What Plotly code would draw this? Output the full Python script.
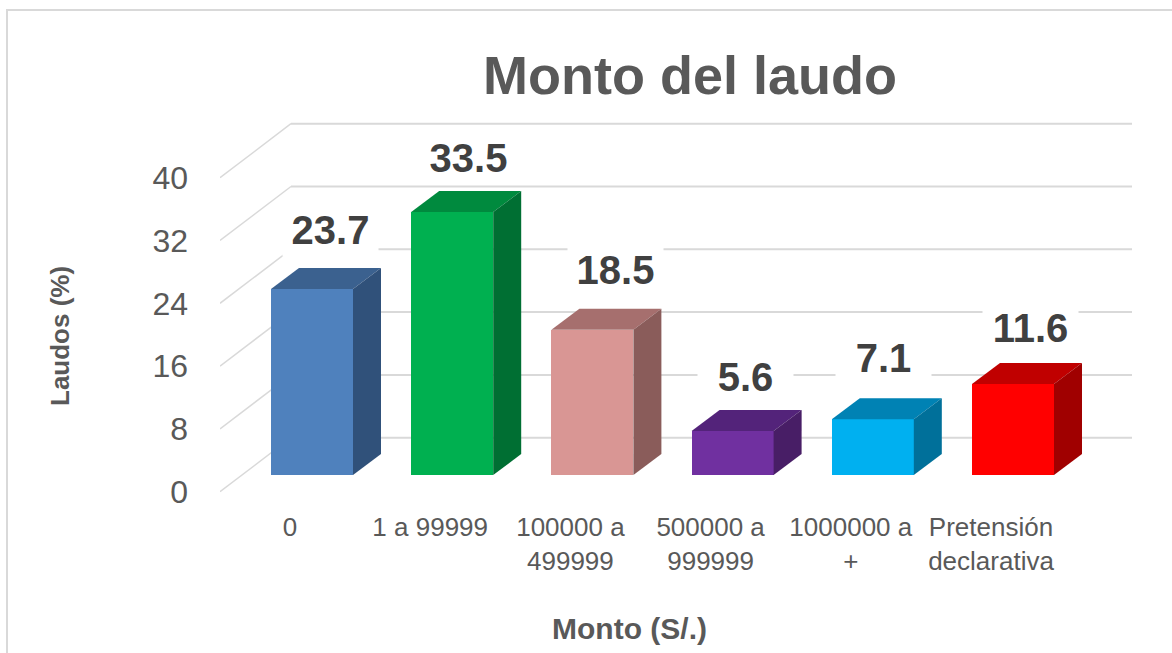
import plotly.graph_objects as go

# ---- data ----
categories = ["0", "1 a 99999", "100000 a<br>499999", "500000 a<br>999999", "1000000 a<br>+", "Pretensión<br>declarativa"]
values = [23.7, 33.5, 18.5, 5.6, 7.1, 11.6]
y_ticks = [0, 8, 16, 24, 32, 40]

front_colors = ["#4F81BD", "#00B050", "#D99694", "#7030A0", "#00B0F0", "#FF0000"]
top_colors = ["#3B618F", "#008A3E", "#A66F6E", "#53237A", "#0082B4", "#C00000"]
side_colors = ["#30517A", "#006F33", "#8A5C5A", "#481E66", "#00709A", "#A00000"]

# label nudges (pixels) relative to the bar's front-face centre / top
label_dx = [18, 16, 23, 13, 11, 17]
label_dy = [59, 54, 60, 54, 61, 56]

# ---- layout constants ----
W, H = 1172, 653
FONT = "Liberation Sans"
PL, PR, PT, PB = 220, 1132, 100, 500      # plot area in page pixels
PX_PER_CAT = 140.2
PX_PER_UNIT = 7.85
ZERO_X, ZERO_Y = 290, 491.7               # page pixel of category 0 / value 0
xr = [(PL - ZERO_X) / PX_PER_CAT, (PR - ZERO_X) / PX_PER_CAT]
yr = [(ZERO_Y - PB) / PX_PER_UNIT, (ZERO_Y - PT) / PX_PER_UNIT]

BAR_W = 82 / PX_PER_CAT
BAR_SHIFT = 22 / PX_PER_CAT
FLOOR = (ZERO_Y - 475) / PX_PER_UNIT
DX, DY = 28 / PX_PER_CAT, 21 / PX_PER_UNIT
WALL_X, WALL_Y = 71 / PX_PER_CAT, 54 / PX_PER_UNIT

fig = go.Figure()

# walls: side-wall diagonals and back gridlines, beneath every trace
shapes = [dict(type="rect", xref="paper", yref="paper", layer="below",
               x0=(7 - PL) / (PR - PL), x1=(1300 - PL) / (PR - PL),
               y0=1 - (800 - PT) / (PB - PT), y1=1 - (10 - PT) / (PB - PT),
               line=dict(color="#D9D9D9", width=2))]
for t in y_ticks:
    shapes.append(dict(type="line", xref="x", yref="y", layer="below",
                       x0=xr[0], y0=t, x1=xr[0] + WALL_X, y1=t + WALL_Y,
                       line=dict(color="#D9D9D9", width=1.5)))
    shapes.append(dict(type="line", xref="x", yref="y", layer="below",
                       x0=xr[0] + WALL_X, y0=t + WALL_Y, x1=xr[1], y1=t + WALL_Y,
                       line=dict(color="#D9D9D9", width=2)))

# front faces
centers = [i + BAR_SHIFT for i in range(len(values))]
fig.add_trace(go.Bar(x=centers, y=values, base=FLOOR, width=BAR_W,
                     marker=dict(color=front_colors, line=dict(width=0)),
                     showlegend=False))

# top and side faces
for c, v, tc, sc in zip(centers, values, top_colors, side_colors):
    l, r, b, t = c - BAR_W / 2, c + BAR_W / 2, FLOOR, FLOOR + v
    fig.add_trace(go.Scatter(x=[l, r, r + DX, l + DX, l], y=[t, t, t + DY, t + DY, t],
                             mode="lines", fill="toself", fillcolor=tc, line=dict(width=0),
                             hoverinfo="skip", showlegend=False))
    fig.add_trace(go.Scatter(x=[r, r + DX, r + DX, r, r], y=[b, b + DY, t + DY, t, b],
                             mode="lines", fill="toself", fillcolor=sc, line=dict(width=0),
                             hoverinfo="skip", showlegend=False))

annotations = []
for c, v, dx, dy in zip(centers, values, label_dx, label_dy):
    annotations.append(dict(x=c, y=FLOOR + v, xref="x", yref="y", text=f"<b>{v}</b>", showarrow=False,
                            xshift=dx, yshift=dy, xanchor="center", yanchor="middle",
                            width=93, height=50, bgcolor="white",
                            font=dict(family=FONT, size=40, color="#404040")))
annotations.append(dict(x=(629 - PL) / (PR - PL), y=1 - (628 - PT) / (PB - PT), xref="paper", yref="paper",
                        text="<b>Monto (S/.)</b>", showarrow=False, xanchor="center", yanchor="middle",
                        font=dict(family=FONT, size=30, color="#595959")))
annotations.append(dict(x=(60 - PL) / (PR - PL), y=1 - (336 - PT) / (PB - PT), xref="paper", yref="paper",
                        text="<b>Laudos (%)</b>", showarrow=False, textangle=-90, xanchor="center", yanchor="middle",
                        font=dict(family=FONT, size=26, color="#595959")))

fig.update_layout(
    width=W, height=H,
    margin=dict(l=PL, r=W - PR, t=PT, b=H - PB, autoexpand=False),
    paper_bgcolor="white", plot_bgcolor="white",
    showlegend=False, bargap=0,
    title=dict(text="<b>Monto del laudo</b>", x=690 / W, y=1 - 75 / H, xref="container", yref="container",
               xanchor="center", yanchor="middle",
               font=dict(family=FONT, size=54, color="#595959")),
    xaxis=dict(range=xr, tickmode="array", tickvals=list(range(len(categories))), ticktext=categories,
               showgrid=False, zeroline=False, showline=False, ticks="", ticklabelstandoff=9,
               tickfont=dict(family=FONT, size=26, color="#595959"), automargin=False),
    yaxis=dict(range=yr, tickmode="array", tickvals=y_ticks, showgrid=False, zeroline=False, showline=False,
               ticks="", ticklabelstandoff=31,
               tickfont=dict(family=FONT, size=32, color="#595959"), automargin=False),
    annotations=annotations,
    shapes=shapes,
)

fig.write_html("out.html", config=dict(displayModeBar=False),
               post_script="document.body.style.margin='0';document.documentElement.style.overflow='hidden';")
